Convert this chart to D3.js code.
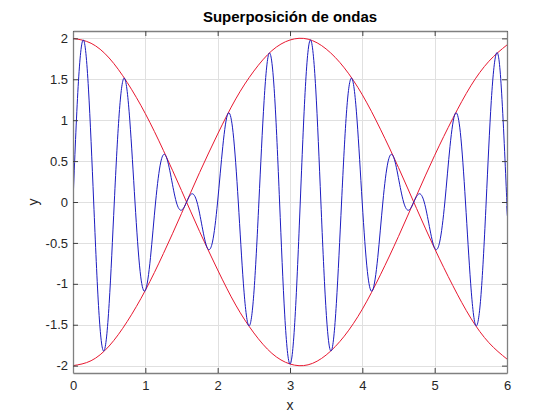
<!DOCTYPE html>
<html><head><meta charset="utf-8">
<script src="https://cdn.jsdelivr.net/npm/d3@7"></script>
<style>body{margin:0;background:#fff}svg{display:block}text{font-family:"Liberation Sans",Arial,sans-serif}</style>
</head><body><svg id="c" width="560" height="420"></svg>
<script>
// Blue wave samples (x, y)
const waveX = [0,0.071,0.143,0.214,0.286,0.357,0.428,0.500,0.571,0.643,0.714,0.785,0.857,0.928,1.000,1.071,1.142,1.214,1.285,1.357,1.428,1.499,1.571,1.642,1.714,1.785,1.856,1.928,1.999,2.071,2.142,2.213,2.285,2.356,2.428,2.499,2.570,2.642,2.713,2.785,2.856,2.927,2.999,3.070,3.142,3.213,3.284,3.356,3.427,3.499,3.570,3.641,3.713,3.784,3.856,3.927,3.998,4.070,4.141,4.213,4.284,4.355,4.427,4.498,4.570,4.641,4.712,4.784,4.855,4.927,4.998,5.069,5.141,5.212,5.284,5.355,5.426,5.498,5.569,5.641,5.712,5.783,5.855,5.926,5.998,6.0];
const waveY = [0,1.41,1.98,1.38,0,-1.33,-1.82,-1.24,0,1.13,1.51,1.00,0,-0.85,-1.08,-0.68,0,0.49,0.56,0.30,0,-0.10,0,0.10,0,-0.30,-0.56,-0.49,0,0.68,1.08,0.85,0,-1.00,-1.51,-1.13,0,1.24,1.82,1.33,0,-1.38,-1.98,-1.41,0,1.41,1.98,1.38,0,-1.33,-1.82,-1.24,0,1.13,1.51,1.00,0,-0.85,-1.08,-0.68,0,0.49,0.56,0.30,0,-0.10,0,0.10,0,-0.30,-0.56,-0.49,0,0.68,1.08,0.85,0,-1.00,-1.51,-1.13,0,1.24,1.82,1.33,0,-0.05];
// Envelope samples
const envX = [0,0.25,0.5,0.75,1.0,1.25,1.5,1.75,2.0,2.25,2.5,2.75,3.0,3.25,3.5,3.75,4.0,4.25,4.5,4.75,5.0,5.25,5.5,5.75,6.0];
const envUpper = [2,1.94,1.76,1.46,1.08,0.63,0.14,-0.36,-0.83,-1.26,-1.60,-1.85,-1.98,-1.99,-1.87,-1.64,-1.31,-0.89,-0.42,0.08,0.57,1.02,1.42,1.72,1.92];
const envLower = [-2,-1.94,-1.76,-1.46,-1.08,-0.63,-0.14,0.36,0.83,1.26,1.60,1.85,1.98,1.99,1.87,1.64,1.31,0.89,0.42,-0.08,-0.57,-1.02,-1.42,-1.72,-1.92];
const xTicks = [0,1,2,3,4,5,6];
const xTickLabels = ["0","1","2","3","4","5","6"];
const yTicks = [-2,-1.5,-1,-0.5,0,0.5,1,1.5,2];
const yTickLabels = ["-2","-1.5","-1","-0.5","0","0.5","1","1.5","2"];
const titleText = "Superposición de ondas";

const svg = d3.select("#c");
const L=73, R=507, T=31, B=373;
const x = d3.scaleLinear().domain([0,6]).range([L,R]);
const y = d3.scaleLinear().domain([-2.09,2.09]).range([B,T]);

// grid
const g = svg.append("g");
g.selectAll(".gx").data(xTicks).join("line").attr("x1",d=>Math.round(x(d))+0.5).attr("x2",d=>Math.round(x(d))+0.5).attr("y1",T).attr("y2",B).attr("stroke","#e0e0e0");
g.selectAll(".gy").data(yTicks).join("line").attr("y1",d=>Math.round(y(d))+0.5).attr("y2",d=>Math.round(y(d))+0.5).attr("x1",L).attr("x2",R).attr("stroke","#e0e0e0");

// curves
svg.append("clipPath").attr("id","cp").append("rect").attr("x",L).attr("y",T).attr("width",R-L).attr("height",B-T);
const plot = svg.append("g").attr("clip-path","url(#cp)");
const line = d3.line().curve(d3.curveNatural);
plot.append("path").attr("d",line(envX.map((v,i)=>[x(v),y(envUpper[i])]))).attr("fill","none").attr("stroke","#e81830").attr("stroke-width",1);
plot.append("path").attr("d",line(envX.map((v,i)=>[x(v),y(envLower[i])]))).attr("fill","none").attr("stroke","#e81830").attr("stroke-width",1);
plot.append("path").attr("d",line(waveX.map((v,i)=>[x(v),y(waveY[i])]))).attr("fill","none").attr("stroke","#1c1cc0").attr("stroke-width",1);

// axes (box with inward ticks)
const axCol = "#808080";
const xb = svg.append("g").attr("transform",`translate(0,${B})`).call(d3.axisBottom(x).tickValues(xTicks).tickSizeInner(-5).tickSizeOuter(0).tickPadding(8).tickFormat((d,i)=>xTickLabels[i]));
const xt = svg.append("g").attr("transform",`translate(0,${T})`).call(d3.axisTop(x).tickValues(xTicks).tickSizeInner(-5).tickSizeOuter(0).tickFormat(""));
const yl = svg.append("g").attr("transform",`translate(${L},0)`).call(d3.axisLeft(y).tickValues(yTicks).tickSizeInner(-5).tickSizeOuter(0).tickPadding(5).tickFormat((d,i)=>yTickLabels[i]));
const yr = svg.append("g").attr("transform",`translate(${R},0)`).call(d3.axisRight(y).tickValues(yTicks).tickSizeInner(-5).tickSizeOuter(0).tickFormat(""));
[xb,xt,yl,yr].forEach(a=>{
  a.select(".domain").attr("stroke",axCol).attr("stroke-width",1.3);
  a.selectAll(".tick line").attr("stroke","#404040");
  a.selectAll("text").attr("fill","#262626").style("font-size","13px").style("font-family","Liberation Sans, Arial, sans-serif");
});

svg.append("text").attr("x",(L+R)/2).attr("y",22).attr("text-anchor","middle").style("font-weight","bold").style("font-size","15px").attr("fill","#000").text(titleText);
svg.append("text").attr("x",(L+R)/2).attr("y",410).attr("text-anchor","middle").style("font-size","14px").attr("fill","#262626").text("x");
svg.append("text").attr("transform",`translate(38,${(T+B)/2}) rotate(-90)`).attr("text-anchor","middle").style("font-size","14px").attr("fill","#262626").text("y");
</script></body></html>
